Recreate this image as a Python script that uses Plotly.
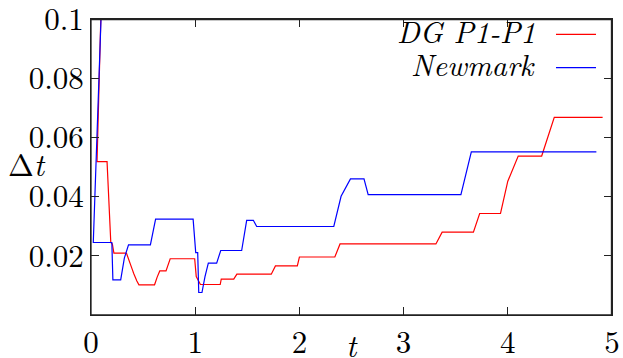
import plotly.graph_objects as go

# ---- data ----
dg_t = [0.1, 0.058, 0.154, 0.19, 0.205, 0.22, 0.34, 0.355, 0.37, 0.38, 0.395, 0.41, 0.425,
        0.44, 0.46, 0.61, 0.635, 0.66, 0.72, 0.76, 0.995, 1.01, 1.05, 1.24, 1.25, 1.37, 1.40,
        1.73, 1.77, 1.98, 2.0, 2.34, 2.39, 3.31, 3.37, 3.67, 3.73, 3.93, 4.0, 4.1, 4.325,
        4.446, 4.91]
dg_dt = [0.108, 0.0518, 0.0518, 0.0245, 0.0240, 0.0209, 0.0209, 0.0195, 0.0185, 0.017, 0.0155,
         0.014, 0.0125, 0.0115, 0.0102, 0.0102, 0.0128, 0.0149, 0.0149, 0.019, 0.019, 0.013,
         0.0103, 0.0103, 0.0121, 0.0121, 0.0138, 0.0138, 0.0166, 0.0166, 0.0196, 0.0196, 0.024,
         0.024, 0.028, 0.028, 0.0343, 0.0343, 0.0452, 0.0537, 0.0537, 0.0668, 0.0668]

nm_t = [0.1, 0.022, 0.2, 0.21, 0.285, 0.32, 0.36, 0.57, 0.62, 0.98, 1.005, 1.024, 1.034,
        1.065, 1.094, 1.126, 1.206, 1.245, 1.446, 1.494, 1.558, 1.59, 2.33, 2.40, 2.49,
        2.62, 2.66, 3.55, 3.65, 4.85]
nm_dt = [0.104, 0.0245, 0.0245, 0.0119, 0.0119, 0.0192, 0.0237, 0.0237, 0.0324, 0.0324,
         0.0211, 0.0211, 0.0076, 0.0076, 0.013, 0.0175, 0.0175, 0.0218, 0.0218, 0.032, 0.032,
         0.0299, 0.0299, 0.0401, 0.046, 0.046, 0.0407, 0.0407, 0.0551, 0.0551]

x_ticks = [0, 1, 2, 3, 4, 5]
y_ticks = [0.02, 0.04, 0.06, 0.08, 0.1]
y_tick_labels = ["0.02", "0.04", "0.06", "0.08", "0.1"]

series_names = ["DG P1-P1", "Newmark"]
series_colors = ["#ff0000", "#0000ff"]

FONT = "Latin Modern Roman"
AX = "#222222"
X_RANGE = [0, 5]
Y_RANGE = [0, 0.10001]

fig = go.Figure()
fig.add_trace(go.Scatter(x=dg_t, y=dg_dt, mode="lines", name=series_names[0],
                         line=dict(color=series_colors[0], width=1.2), showlegend=False))
fig.add_trace(go.Scatter(x=nm_t, y=nm_dt, mode="lines", name=series_names[1],
                         line=dict(color=series_colors[1], width=1.2), showlegend=False))

axis_common = dict(showline=True, linecolor=AX, linewidth=1, mirror="allticks",
                   ticks="inside", ticklen=8, tickcolor=AX, tickwidth=1,
                   showgrid=False, zeroline=False, automargin=False,
                   ticklabeloverflow="allow",
                   tickfont=dict(family=FONT, size=31, color="black"))

fig.update_layout(
    xaxis=dict(range=X_RANGE, tickvals=x_ticks, ticktext=[str(v) for v in x_ticks],
               **axis_common),
    yaxis=dict(range=Y_RANGE, tickvals=y_ticks, ticktext=y_tick_labels, **axis_common),
)

annotations = [
    dict(text="Δ<i>t</i>", xref="paper", yref="paper", x=-0.123, y=0.5135,
         showarrow=False, font=dict(family=FONT, size=31, color="black"),
         xanchor="center", yanchor="middle"),
    dict(text="<i>t</i>", xref="paper", yref="paper", x=0.501, y=-0.098,
         showarrow=False, font=dict(family=FONT, size=31, color="black"),
         xanchor="center", yanchor="middle"),
]
# plot frame (top / right edges included)
shapes = [dict(type="rect", xref="paper", yref="paper", x0=0, x1=0.999, y0=0, y1=0.998,
               line=dict(color=AX, width=1.3), layer="above")]
leg_y = [0.948, 0.8355]
for name, color, ly in zip(series_names, series_colors, leg_y):
    annotations.append(dict(text="<i>" + name + "</i>", xref="paper", yref="paper",
                            x=0.858, y=ly + 0.0135, showarrow=False, xanchor="right",
                            yanchor="middle",
                            font=dict(family=FONT, size=30, color="black")))
    shapes.append(dict(type="line", xref="paper", yref="paper", x0=0.8925, x1=0.9693,
                       y0=ly, y1=ly, line=dict(color=color, width=1.2)))

fig.update_layout(template="none", width=623, height=358,
                  margin=dict(l=91, r=11, t=19, b=43),
                  paper_bgcolor="white", plot_bgcolor="white",
                  annotations=annotations, shapes=shapes, showlegend=False,
                  font=dict(family=FONT, color="black"))

fig.write_html("out.html")
